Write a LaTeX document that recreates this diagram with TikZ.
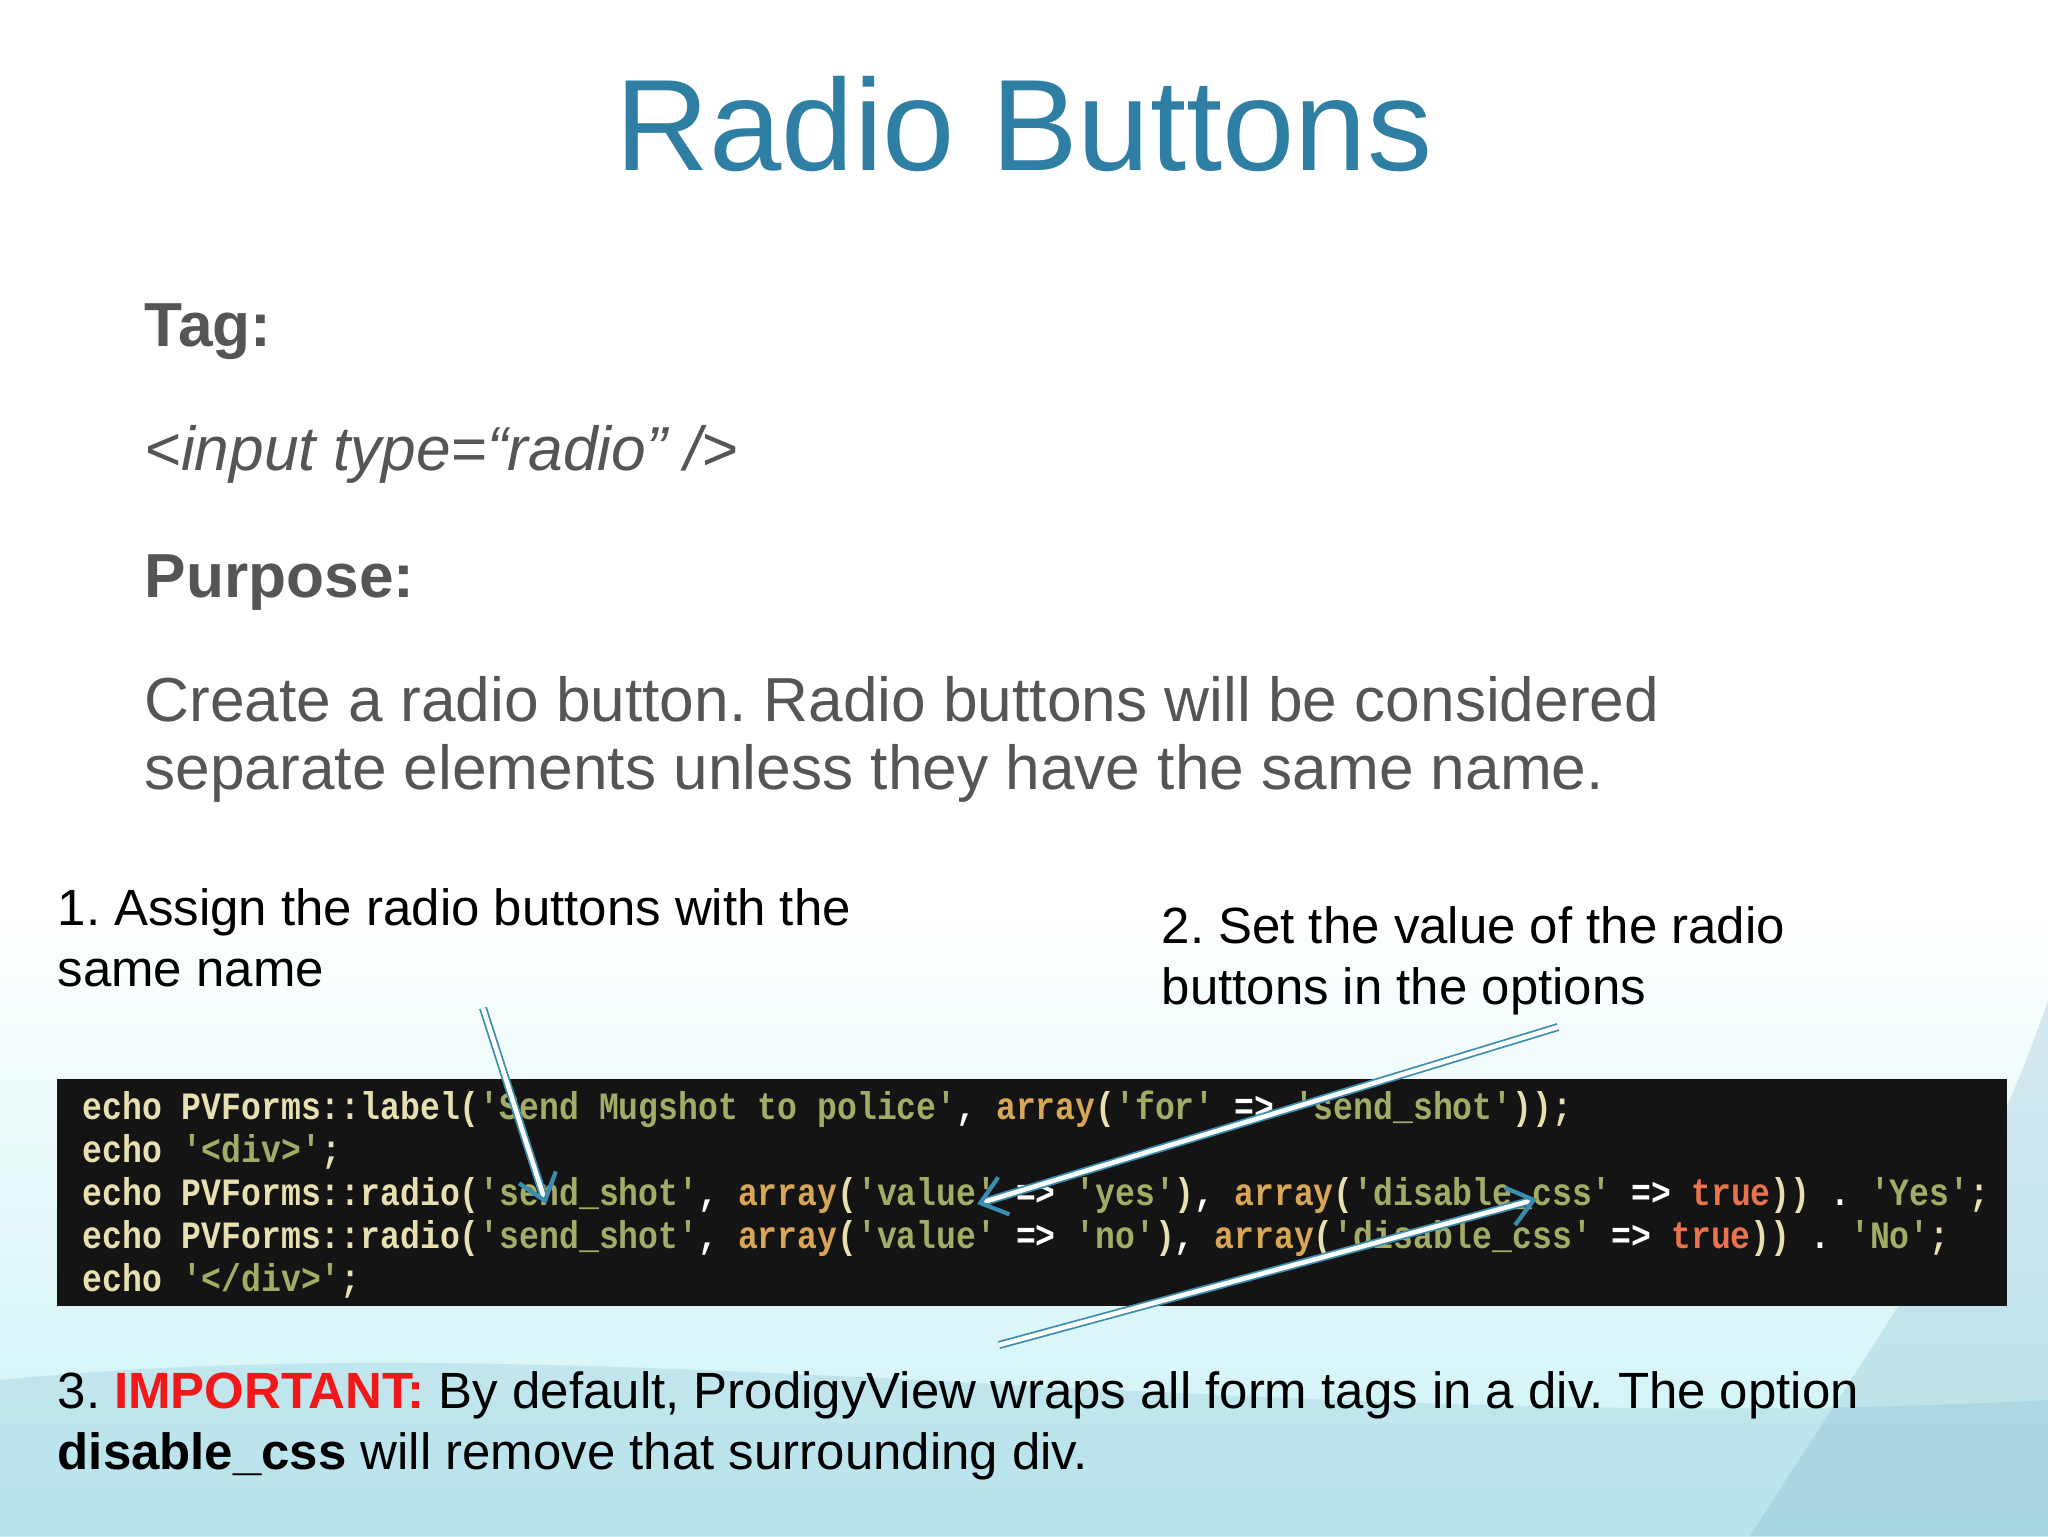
\documentclass[tikz,border=0pt]{standalone}
\usepackage{fontspec}
\setmainfont{Liberation Sans}
\newfontfamily\codefont[FakeStretch=0.856]{Liberation Mono}
\usetikzlibrary{arrows.meta}
\definecolor{titleblue}{HTML}{2E7FA3}
\definecolor{bodygray}{HTML}{555555}
\definecolor{codebg}{HTML}{141414}
\definecolor{cyel}{HTML}{E8E0B0}
\definecolor{cstr}{HTML}{A3AC66}
\definecolor{carr}{HTML}{D8A657}
\definecolor{ctrue}{HTML}{E8734C}
\definecolor{arrowteal}{HTML}{3A8DAE}
\definecolor{impred}{HTML}{F01818}
\newcommand\qq{\char"27\relax}
\newcommand\Cs[1]{\textcolor{cstr}{\qq#1\qq}}
\newcommand\Ca{\textcolor{carr}{array}}
\newcommand\Ct{\textcolor{ctrue}{true}}
\frenchspacing
\begin{document}
\begin{tikzpicture}[x=0.1mm,y=-0.1mm,
  body/.style={anchor=base west,inner sep=0,text=bodygray,font=\fontsize{17.7}{19}\selectfont},
  note/.style={anchor=base west,inner sep=0,text=black,font=\fontsize{14.5}{17}\selectfont},
  code/.style={anchor=base west,inner sep=0,text=cyel,font=\codefont\bfseries\fontsize{11}{12}\selectfont},
  pointer/.style={draw=arrowteal,double=white,double distance=1.3pt,line width=0.5pt,-{Straight Barb[length=7pt,width=11pt,line width=1.2pt]}}]
\useasboundingbox (0,0) rectangle (2048,1536);
\fill[white] (0,0) rectangle (2048,900);
\shade[top color=white,bottom color=white!60!arrowteal!70!cyan!40] (0,900) rectangle (2048,1536);
\fill[white!40!arrowteal,opacity=0.3] (1750,1536) .. controls (1900,1300) and (1980,1200) .. (2048,1000) -- (2048,1536) -- cycle;
\fill[white!30!arrowteal,opacity=0.22] (0,1536) -- (0,1380) .. controls (600,1320) and (1300,1440) .. (2048,1400) -- (2048,1536) -- cycle;
\node[anchor=base,inner sep=0,text=titleblue,font=\fontsize{37}{40}\selectfont] (title) at (1024,170) {Radio Buttons};
\node[body,font=\bfseries\fontsize{17.7}{19}\selectfont] (tag) at (144,346) {Tag:};
\node[body,font=\itshape\fontsize{17.7}{19}\selectfont] (input) at (144,470) {<input type=“radio” />};
\node[body,font=\bfseries\fontsize{17.7}{19}\selectfont] (purpose) at (144,597) {Purpose:};
\node[body] (create1) at (144,721) {Create a radio button. Radio buttons will be considered};
\node[body] (create2) at (144,789) {separate elements unless they have the same name.};
\node[note] (n1a) at (57,925) {1. Assign the radio buttons with the};
\node[note] (n1b) at (57,986) {same name};
\node[note] (n2a) at (1161,943) {2. Set the value of the radio};
\node[note] (n2b) at (1161,1004) {buttons in the options};
\fill[codebg] (57,1079) rectangle (2007,1306);
\node[code] (c1) at (82,1119) {echo PVForms::label(\Cs{Send Mugshot to police}\textcolor{white}{,} \Ca(\Cs{for} \textcolor{white}{=>} \Cs{send\_shot}));};
\node[code] (c2) at (82,1162) {echo \Cs{<div>};};
\node[code] (c3) at (82,1205) {echo PVForms::radio(\Cs{send\_shot}\textcolor{white}{,} \Ca(\Cs{value} \textcolor{white}{=>} \Cs{yes})\textcolor{white}{,} \Ca(\Cs{disable\_css} \textcolor{white}{=>} \Ct)) \textcolor{white}{.} \Cs{Yes};};
\node[code] (c4) at (82,1248) {echo PVForms::radio(\Cs{send\_shot}\textcolor{white}{,} \Ca(\Cs{value} \textcolor{white}{=>} \Cs{no})\textcolor{white}{,} \Ca(\Cs{disable\_css} \textcolor{white}{=>} \Ct)) \textcolor{white}{.} \Cs{No};};
\node[code] (c5) at (82,1291) {echo \Cs{</div>};};
\node[note] (n3a) at (57,1408) {3. \textcolor{impred}{\bfseries IMPORTANT:} By default, ProdigyView wraps all form tags in a div. The option};
\node[note] (n3b) at (57,1469) {\bfseries disable\_css\mdseries{} will remove that surrounding div.};
\coordinate (a1s) at (483,1008);
\coordinate (a1e) at (546,1204);
\coordinate (a2s) at (1558,1027);
\coordinate (a2e) at (977,1204);
\coordinate (a3s) at (999,1345);
\coordinate (a3e) at (1537,1199);
\draw[pointer] (a1s) -- (a1e);
\draw[pointer] (a2s) -- (a2e);
\draw[pointer] (a3s) -- (a3e);
\end{tikzpicture}
\end{document}
